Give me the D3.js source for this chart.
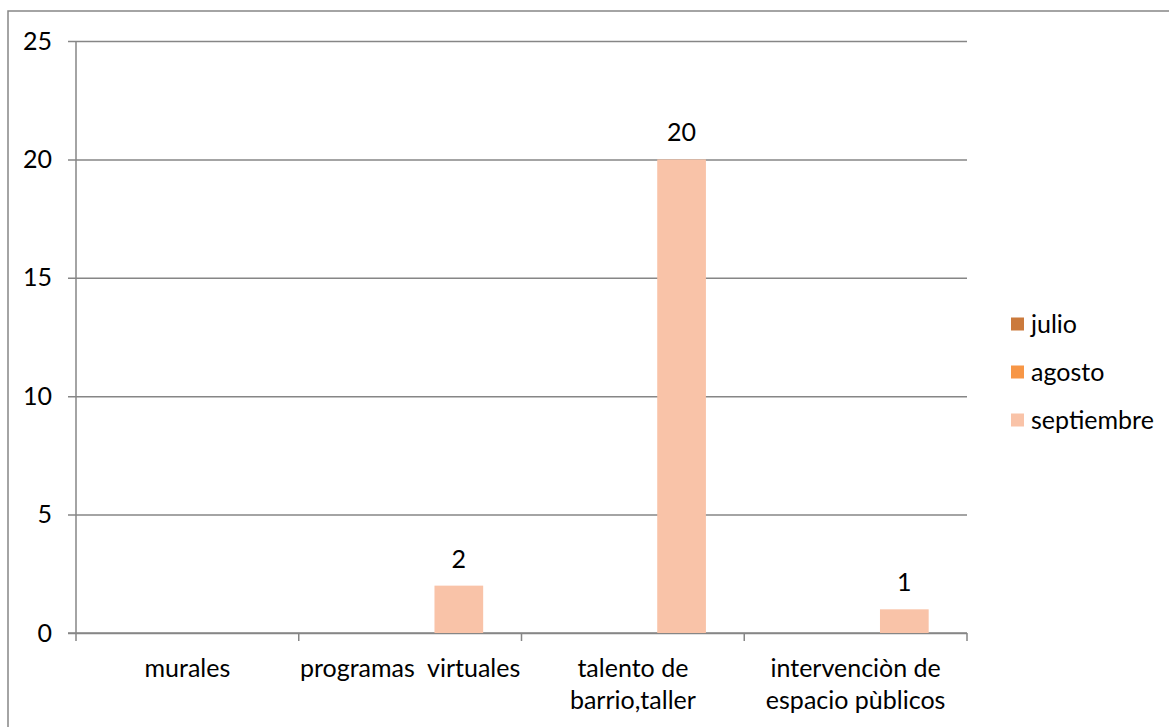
<!DOCTYPE html>
<html>
<head>
<meta charset="utf-8">
<script src="https://cdn.jsdelivr.net/npm/d3@7"></script>
<style>
  body { margin: 0; background: #fff; }
  text { font-family: Lato, "Noto Sans", sans-serif; fill: #000; }
</style>
</head>
<body>
<script>
// chart data
const categories = ["murales", "programas  virtuales", "talento de\nbarrio,taller", "intervenciòn de\nespacio pùblicos"];
const seriesNames = ["julio", "agosto", "septiembre"];
const julio = [null, null, null, null];
const agosto = [null, null, null, null];
const septiembre = [null, 2, 20, 1];
const yTicks = [0, 5, 10, 15, 20, 25];

const seriesValues = [julio, agosto, septiembre];
const colors = ["#cb7a3c", "#f79646", "#f9c3a8"];

const width = 1169;
const height = 727;
const fontSize = 25;
const margin = { top: 41, bottom: 94, right: 202, left: 76 }

const svg = d3.select("body")
  .append("svg")
  .attr("width", width)
  .attr("height", height);

// outer chart border
svg.append("rect")
  .attr("x", 8)
  .attr("y", 11)
  .attr("width", 1200)
  .attr("height", 800)
  .attr("fill", "none")
  .attr("stroke", "#868686")
  .attr("stroke-width", 1.5);

const yScale = d3.scaleLinear()
  .domain([0, 25])
  .range([height - margin.bottom, margin.top]);

const xScale = d3.scaleBand()
  .domain(categories)
  .range([margin.left, width - margin.right]);

const seriesScale = d3.scaleBand()
  .domain(seriesNames)
  .range([0, xScale.bandwidth()])
  .paddingInner(0)
  .paddingOuter(0.787);

const y0 = yScale(0);

// horizontal grid lines (with the small outward tick on the left)
const grid = d3.axisRight(yScale)
  .tickValues(yTicks)
  .tickSize(width - margin.right - margin.left + 8)
  .tickFormat("");

svg.append("g")
  .attr("transform", `translate(${margin.left - 8},0)`)
  .call(grid)
  .call(g => g.select(".domain").remove())
  .call(g => g.selectAll("line").attr("stroke", "#868686").attr("stroke-width", 1.5));

// y axis labels
const yAxis = d3.axisLeft(yScale)
  .tickValues(yTicks)
  .tickSize(0)
  .tickPadding(24);

svg.append("g")
  .attr("transform", `translate(${margin.left},0)`)
  .call(yAxis)
  .call(g => g.select(".domain").remove())
  .call(g => g.selectAll("text")
    .attr("font-size", fontSize)
    .attr("font-family", "Lato, sans-serif")
    .attr("fill", "#000"));

// y axis line
svg.append("line")
  .attr("x1", margin.left).attr("x2", margin.left)
  .attr("y1", yScale(25)).attr("y2", y0)
  .attr("stroke", "#868686")
  .attr("stroke-width", 1.5);

// x axis line and boundary ticks
svg.append("line")
  .attr("x1", margin.left - 8).attr("x2", width - margin.right)
  .attr("y1", y0).attr("y2", y0)
  .attr("stroke", "#868686")
  .attr("stroke-width", 1.5);

const boundaries = categories.map(c => xScale(c)).concat([xScale.range()[1]]);
svg.selectAll("line.xtick")
  .data(boundaries)
  .enter()
  .append("line")
    .attr("class", "xtick")
    .attr("x1", d => d).attr("x2", d => d)
    .attr("y1", y0).attr("y2", y0 + 8)
    .attr("stroke", "#868686")
    .attr("stroke-width", 1.5);

// category labels
const catLabels = svg.selectAll("text.cat")
  .data(categories)
  .enter()
  .append("text")
    .attr("class", "cat")
    .attr("text-anchor", "middle")
    .attr("font-size", fontSize)
    .attr("y", y0 + 44);

catLabels.each(function(d) {
  const lines = d.split("\n");
  d3.select(this).selectAll("tspan")
    .data(lines)
    .enter()
    .append("tspan")
      .attr("x", xScale(d) + xScale.bandwidth() / 2)
      .attr("dy", (l, i) => i === 0 ? 0 : 32)
      .attr("xml:space", "preserve")
      .style("white-space", "pre")
      .text(l => l);
});

// bars
seriesNames.forEach((name, s) => {
  const vals = seriesValues[s].map((v, i) => ({ cat: categories[i], v }))
    .filter(d => d.v !== null);

  svg.selectAll(`rect.s${s}`)
    .data(vals)
    .enter()
    .append("rect")
      .attr("class", `s${s}`)
      .attr("x", d => xScale(d.cat) + seriesScale(name))
      .attr("y", d => yScale(d.v))
      .attr("width", seriesScale.bandwidth())
      .attr("height", d => y0 - yScale(d.v))
      .attr("fill", colors[s]);

  // value labels
  svg.selectAll(`text.v${s}`)
    .data(vals)
    .enter()
    .append("text")
      .attr("class", `v${s}`)
      .attr("text-anchor", "middle")
      .attr("font-size", fontSize)
      .attr("x", d => xScale(d.cat) + seriesScale(name) + seriesScale.bandwidth() / 2)
      .attr("y", d => yScale(d.v) - 18)
      .text(d => d.v);
});

// legend
const legend = svg.selectAll("g.legend")
  .data(seriesNames)
  .enter()
  .append("g")
    .attr("class", "legend")
    .attr("transform", (d, i) => `translate(1011,${324 + i * 48})`);

legend.append("rect")
  .attr("x", 0)
  .attr("y", -6.5)
  .attr("width", 13)
  .attr("height", 13)
  .attr("fill", (d, i) => colors[i]);

legend.append("text")
  .attr("x", 20)
  .attr("dy", "0.35em")
  .attr("font-size", fontSize)
  .text(d => d);
</script>
</body>
</html>
